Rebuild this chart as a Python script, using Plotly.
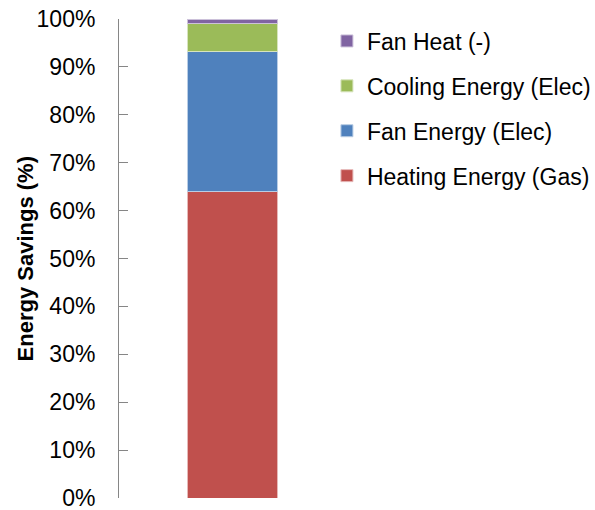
import plotly.graph_objects as go

categories = [""]
series_names = ["Heating Energy (Gas)", "Fan Energy (Elec)", "Cooling Energy (Elec)", "Fan Heat (-)"]
heating = [0.64]
fan_energy = [0.292]
cooling = [0.058]
fan_heat = [0.01]
series_values = [heating, fan_energy, cooling, fan_heat]
colors = ["#C0504D", "#4F81BD", "#9BBB59", "#8064A2"]
edge_colors = ["#E6B9B8", "#B9CDE5", "#D7E4BD", "#CCC1DA"]
legend_ranks = [4, 3, 2, 1]
tick_vals = [i / 10 for i in range(11)]
tick_text = [f"{i * 10}%" for i in range(11)]
y_title = "Energy Savings (%)"

FONT = "Liberation Sans"

fig = go.Figure()
for name, vals, c, ec, rk in zip(series_names, series_values, colors, edge_colors, legend_ranks):
    fig.add_trace(go.Bar(
        x=categories, y=vals, name=name,
        marker=dict(color=c, line=dict(color=ec, width=1)),
        width=0.395, legendgroup=name, legendrank=rk,
    ))

fig.add_annotation(
    text=f"<b>{y_title}</b>", textangle=-90,
    xref="paper", yref="paper", x=-0.41, y=0.5,
    xanchor="center", yanchor="middle", showarrow=False,
    font=dict(family=FONT, size=22, color="#000000"),
)

fig.update_layout(
    barmode="stack",
    width=595, height=510,
    margin=dict(l=119, r=249, t=19, b=12, autoexpand=False),
    plot_bgcolor="white", paper_bgcolor="white",
    font=dict(family=FONT, size=23, color="#000000"),
    showlegend=True,
    legend=dict(
        x=0.916, xanchor="left", y=0.999, yanchor="top",
        traceorder="grouped", tracegroupgap=12,
        font=dict(family=FONT, size=23, color="#000000"),
        itemwidth=30, bgcolor="rgba(0,0,0,0)",
    ),
    xaxis=dict(
        showline=False, showticklabels=False, ticks="", showgrid=False,
        zeroline=False, range=[-0.5, 0.5],
    ),
    yaxis=dict(
        range=[0, 1], tickvals=tick_vals, ticktext=tick_text,
        ticks="inside", ticklen=9, tickcolor="#868686", tickwidth=1,
        showline=True, linecolor="#868686", linewidth=1,
        showgrid=False, zeroline=False,
        tickfont=dict(family=FONT, size=23, color="#000000"),
        ticklabelstandoff=18, ticklabeloverflow="allow",
        automargin=False,
    ),
)

fig.write_html(
    "out.html",
    config={"displayModeBar": False},
    post_script="document.body.style.margin='0';document.body.style.padding='0';",
)
